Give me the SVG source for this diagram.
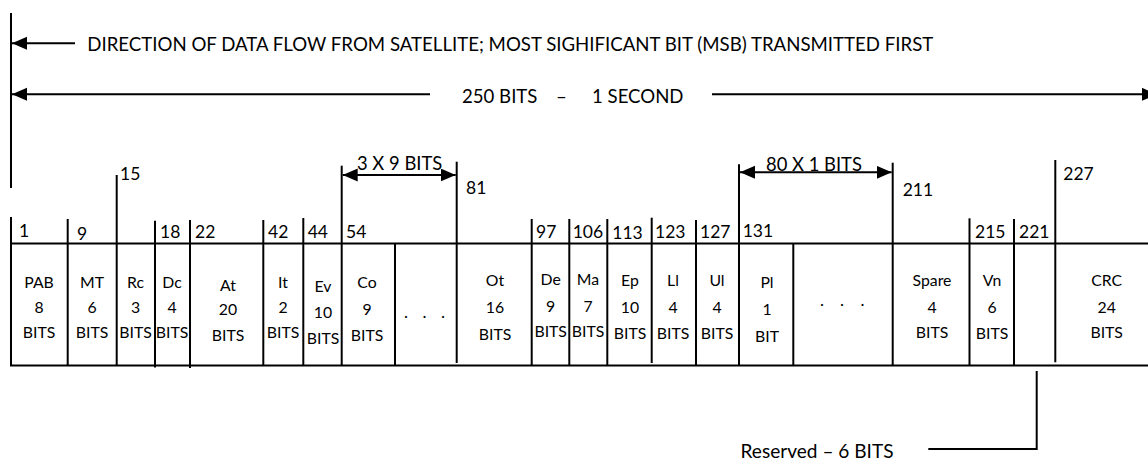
<svg xmlns="http://www.w3.org/2000/svg" width="1148" height="461" viewBox="0 0 1148 461">
<style>
text{font-family:Lato,"Liberation Sans",sans-serif;fill:#000}
.ln{stroke:#000;stroke-width:2;fill:none}
.hd{font-size:18.6px}
.num{font-size:17.5px}
.cell{font-size:15.8px;text-anchor:middle}
.lab{font-size:18.4px}
</style>
<defs>
<marker id="ah" markerUnits="userSpaceOnUse" markerWidth="16" markerHeight="14" refX="15" refY="6.5" orient="auto-start-reverse">
<path d="M0,0 L15,6.5 L0,13 z" fill="#000"/>
</marker>
</defs>
<rect width="1148" height="461" fill="#fff"/>
<g id="connectors">
<line class="ln" x1="11" y1="13" x2="11" y2="188"/>
<line class="ln" x1="75" y1="43.3" x2="12" y2="43.3" marker-end="url(#ah)"/>
<line class="ln" x1="430" y1="94.3" x2="12" y2="94.3" marker-end="url(#ah)"/>
<line class="ln" x1="712" y1="94.3" x2="1157" y2="94.3" marker-end="url(#ah)"/>
<line class="ln" x1="342.7" y1="175" x2="455.7" y2="175" marker-start="url(#ah)" marker-end="url(#ah)"/>
<line class="ln" x1="740" y1="172.3" x2="891.7" y2="172.3" marker-start="url(#ah)" marker-end="url(#ah)"/>
<polyline class="ln" points="1036.7,371 1036.7,449 928.3,449"/>
</g>
<g id="labels">
<text class="hd" x="87.3" y="50.5" textLength="846" lengthAdjust="spacingAndGlyphs">DIRECTION OF DATA FLOW FROM SATELLITE; MOST SIGHIFICANT BIT (MSB) TRANSMITTED FIRST</text>
<text class="hd" y="102.7"><tspan x="462">250 BITS</tspan><tspan x="556">–</tspan><tspan x="592">1 SECOND</tspan></text>
<text class="lab" x="357" y="170">3 X 9 BITS</text>
<text class="lab" x="766" y="171">80 X 1 BITS</text>
<text class="hd" x="740.5" y="458" textLength="153" lengthAdjust="spacingAndGlyphs">Reserved – 6 BITS</text>
</g>
<g id="frame">
<line class="ln" x1="10" y1="243.5" x2="1148" y2="243.5"/>
<line class="ln" x1="10" y1="365.5" x2="1148" y2="365.5"/>
</g>
<g id="bit-markers">
<line class="ln" x1="11" y1="217" x2="11" y2="366"/><text class="num" x="19" y="237.3">1</text>
<line class="ln" x1="67.7" y1="219" x2="67.7" y2="366"/><text class="num" x="77" y="240">9</text>
<line class="ln" x1="116.7" y1="175" x2="116.7" y2="366"/><text class="num" x="120" y="180">15</text>
<line class="ln" x1="155" y1="220.7" x2="155" y2="367.5"/><text class="num" x="160" y="237.5">18</text>
<line class="ln" x1="190" y1="220" x2="190" y2="368"/><text class="num" x="195" y="237.5">22</text>
<line class="ln" x1="263.3" y1="220" x2="263.3" y2="366"/><text class="num" x="268" y="237.5">42</text>
<line class="ln" x1="303.3" y1="218" x2="303.3" y2="366"/><text class="num" x="307.7" y="238.3">44</text>
<line class="ln" x1="341.7" y1="165.7" x2="341.7" y2="366"/><text class="num" x="346" y="238.3">54</text>
<line class="ln" x1="395" y1="243" x2="395" y2="366"/>
<line class="ln" x1="456.7" y1="161.7" x2="456.7" y2="363"/><text class="num" x="466" y="194">81</text>
<line class="ln" x1="531.7" y1="219" x2="531.7" y2="366"/><text class="num" x="536" y="238.3">97</text>
<line class="ln" x1="569.3" y1="219" x2="569.3" y2="366"/><text class="num" x="572.7" y="238.3">106</text>
<line class="ln" x1="607.3" y1="219" x2="607.3" y2="366"/><text class="num" x="612.3" y="239.3">113</text>
<line class="ln" x1="651.7" y1="217.7" x2="651.7" y2="363"/><text class="num" x="655" y="238.3">123</text>
<line class="ln" x1="696" y1="220" x2="696" y2="366"/><text class="num" x="700" y="238.3">127</text>
<line class="ln" x1="739" y1="164.3" x2="739" y2="366"/><text class="num" x="742.7" y="237.3">131</text>
<line class="ln" x1="793.3" y1="243" x2="793.3" y2="366"/>
<line class="ln" x1="892.7" y1="162.7" x2="892.7" y2="366"/><text class="num" x="902.7" y="195.5">211</text>
<line class="ln" x1="969.5" y1="218.3" x2="969.5" y2="366"/><text class="num" x="975" y="238.3">215</text>
<line class="ln" x1="1014" y1="219" x2="1014" y2="366"/><text class="num" x="1019" y="238.3">221</text>
<line class="ln" x1="1055.3" y1="160" x2="1055.3" y2="362.3"/><text class="num" x="1063.3" y="180">227</text>
</g>
<g id="PAB"><text class="cell" x="39" y="288">PAB</text><text class="cell" x="39" y="313">8</text><text class="cell" x="39" y="338">BITS</text></g>
<g id="MT"><text class="cell" x="92" y="288">MT</text><text class="cell" x="92" y="313">6</text><text class="cell" x="92" y="338">BITS</text></g>
<g id="Rc"><text class="cell" x="135.5" y="288">Rc</text><text class="cell" x="135.5" y="313">3</text><text class="cell" x="135.5" y="338">BITS</text></g>
<g id="Dc"><text class="cell" x="172" y="288">Dc</text><text class="cell" x="172" y="313">4</text><text class="cell" x="172" y="338">BITS</text></g>
<g id="At"><text class="cell" x="228" y="290.5">At</text><text class="cell" x="228" y="315">20</text><text class="cell" x="228" y="341">BITS</text></g>
<g id="It"><text class="cell" x="283" y="288">It</text><text class="cell" x="283" y="313">2</text><text class="cell" x="283" y="338">BITS</text></g>
<g id="Ev"><text class="cell" x="323" y="292">Ev</text><text class="cell" x="323" y="318">10</text><text class="cell" x="323" y="344">BITS</text></g>
<g id="Co"><text class="cell" x="367" y="288">Co</text><text class="cell" x="367" y="315">9</text><text class="cell" x="367" y="340.7">BITS</text></g>
<g id="dots1"><text class="cell" style="text-anchor:start;font-size:17px" x="404 413 422.5 432 441" y="318">. . .</text></g>
<g id="Ot"><text class="cell" x="495" y="285.7">Ot</text><text class="cell" x="495" y="313">16</text><text class="cell" x="495" y="340">BITS</text></g>
<g id="De"><text class="cell" x="550.7" y="285">De</text><text class="cell" x="550.7" y="311.7">9</text><text class="cell" x="550.7" y="337.3">BITS</text></g>
<g id="Ma"><text class="cell" x="588" y="285">Ma</text><text class="cell" x="588" y="311.7">7</text><text class="cell" x="588" y="337.3">BITS</text></g>
<g id="Ep"><text class="cell" x="630" y="285.7">Ep</text><text class="cell" x="630" y="312.7">10</text><text class="cell" x="630" y="339">BITS</text></g>
<g id="Ll"><text class="cell" x="673" y="285.7">Ll</text><text class="cell" x="673" y="312.7">4</text><text class="cell" x="673" y="339">BITS</text></g>
<g id="Ul"><text class="cell" x="717" y="285.7">Ul</text><text class="cell" x="717" y="312.7">4</text><text class="cell" x="717" y="339">BITS</text></g>
<g id="Pl"><text class="cell" x="767" y="288.3">Pl</text><text class="cell" x="767" y="315">1</text><text class="cell" x="767" y="341.7">BIT</text></g>
<g id="dots2"><text class="cell" style="text-anchor:start;font-size:17px" x="820 830 840 850 860.5" y="305.5">. . .</text></g>
<g id="Spare"><text class="cell" x="932" y="286">Spare</text><text class="cell" x="932" y="312.7">4</text><text class="cell" x="932" y="338.3">BITS</text></g>
<g id="Vn"><text class="cell" x="992" y="285.7">Vn</text><text class="cell" x="992" y="312.7">6</text><text class="cell" x="992" y="339">BITS</text></g>
<g id="CRC"><text class="cell" x="1106.7" y="285.7">CRC</text><text class="cell" x="1106.7" y="312.7">24</text><text class="cell" x="1106.7" y="338.3">BITS</text></g>
</svg>
